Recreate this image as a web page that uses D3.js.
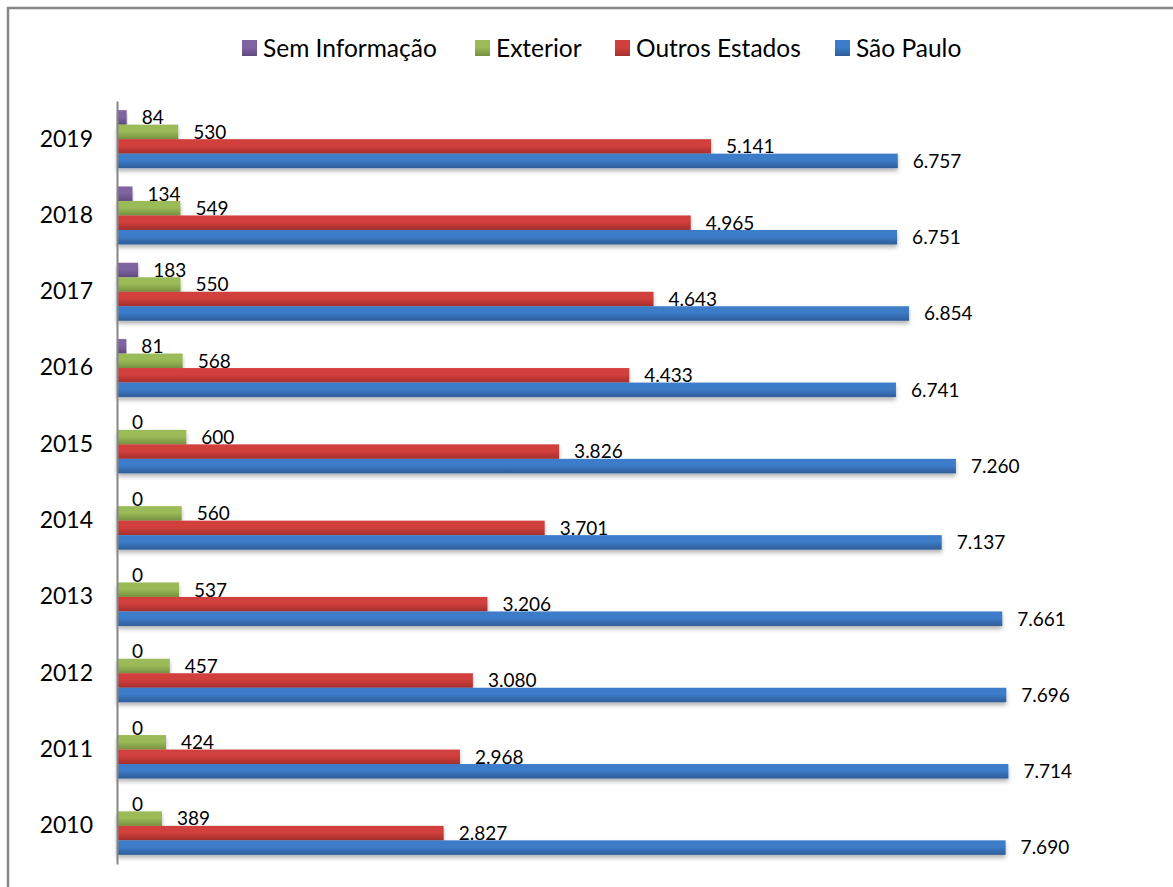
<!DOCTYPE html>
<html>
<head>
<meta charset="utf-8">
<script src="https://cdn.jsdelivr.net/npm/d3@7"></script>
<style>
  body { margin: 0; background: #fff; }
  svg text { font-family: Lato, "Open Sans", sans-serif; fill: #000; }
</style>
</head>
<body>
<svg id="chart" width="1173" height="887"></svg>
<script>
// data
var years = ["2019", "2018", "2017", "2016", "2015", "2014", "2013", "2012", "2011", "2010"];
var series = ["Sem Informação", "Exterior", "Outros Estados", "São Paulo"];
var semInfo = [84, 134, 183, 81, 0, 0, 0, 0, 0, 0];
var exterior = [530, 549, 550, 568, 600, 560, 537, 457, 424, 389];
var outros = [5141, 4965, 4643, 4433, 3826, 3701, 3206, 3080, 2968, 2827];
var saoPaulo = [6757, 6751, 6854, 6741, 7260, 7137, 7661, 7696, 7714, 7690];
var values = [semInfo, exterior, outros, saoPaulo];

var colors = [
  ["#8064a2", "#5f4a7d"],
  ["#9bbb59", "#76913f"],
  ["#d13f3c", "#a52f2d"],
  ["#3d7cc9", "#2d5c98"]
];

var svg = d3.select("#chart");
var defs = svg.append("defs");

colors.forEach(function(c, i) {
  var g = defs.append("linearGradient")
    .attr("id", "grad" + i)
    .attr("x1", 0).attr("y1", 0).attr("x2", 0).attr("y2", 1);
  g.append("stop").attr("offset", "0%").attr("stop-color", c[0]);
  g.append("stop").attr("offset", "45%").attr("stop-color", c[0]);
  g.append("stop").attr("offset", "100%").attr("stop-color", c[1]);
});

var shadow = defs.append("filter").attr("id", "shadow")
  .attr("x", "-5%").attr("y", "-50%").attr("width", "110%").attr("height", "250%");
shadow.append("feDropShadow")
  .attr("dx", 0).attr("dy", 3).attr("stdDeviation", 2)
  .attr("flood-color", "#000").attr("flood-opacity", 0.3);

// outer frame (cut off at right and bottom)
svg.append("path")
  .attr("d", "M8,900 L8,8 L1180,8")
  .attr("fill", "none")
  .attr("stroke", "#868686")
  .attr("stroke-width", 2.5);

var plotLeft = 117, plotRight = 1157, plotTop = 101, plotBottom = 864;

var x = d3.scaleLinear().domain([0, 9000]).range([plotLeft, plotRight]);
var y = d3.scaleBand().domain(years).range([plotTop, plotBottom]).paddingInner(0.24).paddingOuter(0.12);
var ySub = d3.scaleBand().domain(d3.range(series.length)).range([0, y.bandwidth()]);

var fmt = function(v) {
  return d3.format(",")(v).replace(/,/g, ".");
};

series.forEach(function(name, si) {
  var g = svg.append("g");
  g.selectAll("rect")
    .data(values[si])
    .join("rect")
    .attr("x", x(0))
    .attr("y", function(d, i) { return y(years[i]) + ySub(si); })
    .attr("width", function(d) { return x(d) - x(0); })
    .attr("height", ySub.bandwidth())
    .attr("fill", "url(#grad" + si + ")")
    .attr("filter", "url(#shadow)");

  g.selectAll("text")
    .data(values[si])
    .join("text")
    .attr("x", function(d) { return x(d) + 15; })
    .attr("y", function(d, i) { return y(years[i]) + ySub(si) + ySub.bandwidth() / 2; })
    .attr("dy", "0.36em")
    .attr("font-size", 19)
    .text(function(d) { return fmt(d); });
});

// category axis
var axis = svg.append("g")
  .attr("transform", "translate(" + plotLeft + ",0)")
  .call(d3.axisLeft(y).tickSize(0).tickPadding(24));
axis.select(".domain").attr("stroke", "#868686").attr("stroke-width", 2);
axis.selectAll("text")
  .attr("font-size", 23)
  .attr("font-family", "Lato, sans-serif")
  .attr("fill", "#000");

// legend
var legendX = [242, 475, 615, 835];
var legend = svg.append("g");
series.forEach(function(name, i) {
  legend.append("rect")
    .attr("x", legendX[i]).attr("y", 40)
    .attr("width", 15).attr("height", 16)
    .attr("fill", "url(#grad" + i + ")");
  legend.append("text")
    .attr("x", legendX[i] + 21).attr("y", 48)
    .attr("dy", "0.36em")
    .attr("font-size", 24.5)
    .text(name);
});
</script>
</body>
</html>
